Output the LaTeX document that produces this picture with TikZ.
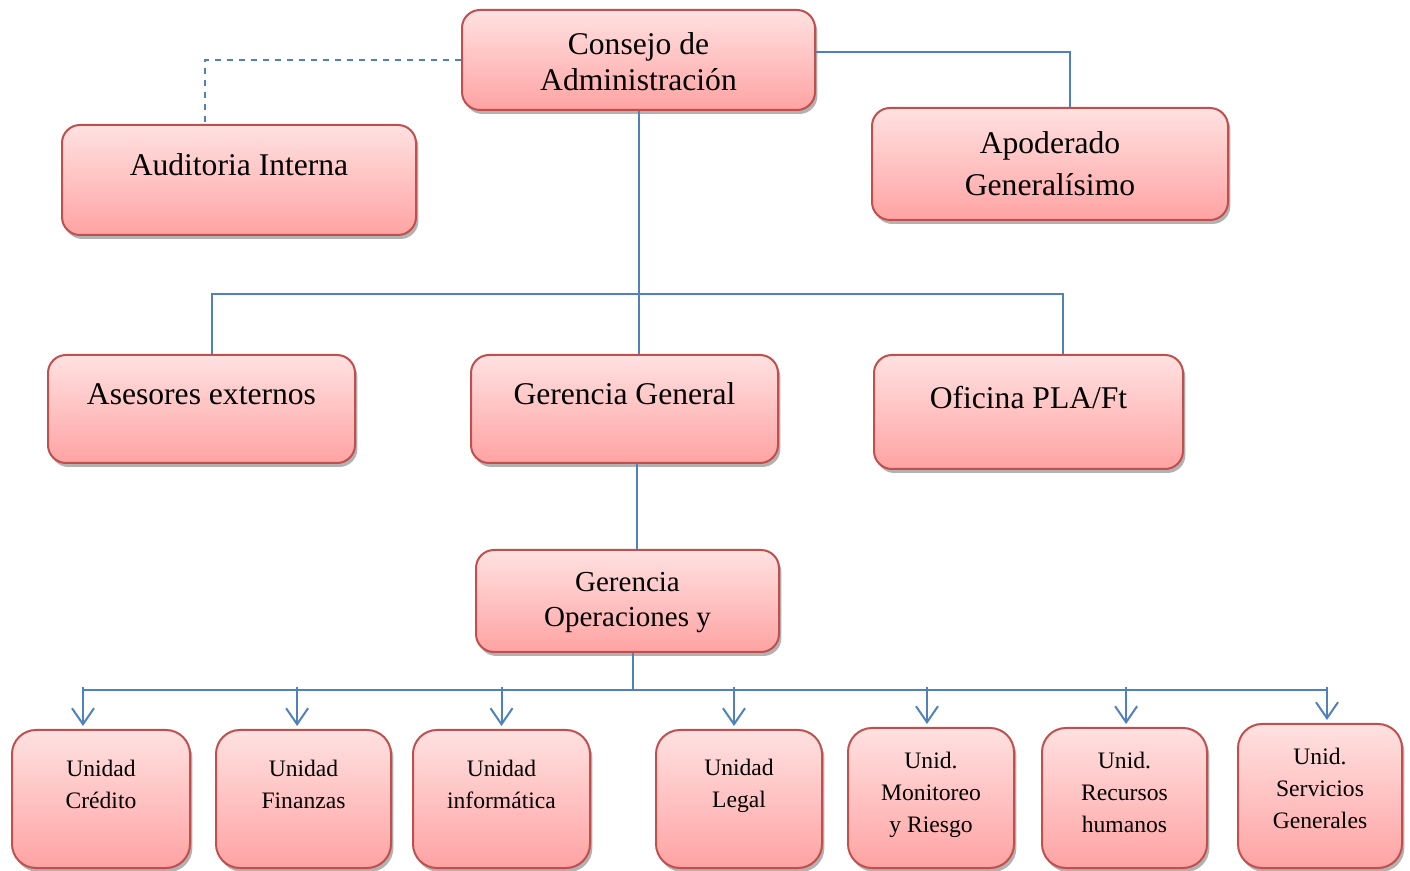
\documentclass[tikz,border=0pt]{standalone}
\usepackage{fontspec}
\setmainfont{Liberation Serif}
\usetikzlibrary{arrows.meta,shadows}

\definecolor{boxred}{RGB}{192,80,77}
\definecolor{boxtop}{RGB}{255,225,225}
\definecolor{boxbot}{RGB}{255,163,163}
\definecolor{linkblue}{RGB}{79,129,189}

\tikzset{
  box/.style={draw=boxred, line width=1pt, rounded corners=9pt,
    top color=boxtop, bottom color=boxbot, inner sep=0pt,
    drop shadow={shadow xshift=1.2pt, shadow yshift=-2pt, opacity=0.3, fill=black}},
  unit/.style={box, rounded corners=12pt},
  bigtxt/.style={font=\fontsize{15.8}{18}\selectfont, align=center},
  optxt/.style={font=\fontsize{14.5}{17.5}\selectfont, align=center},
  unittxt/.style={font=\fontsize{11.8}{16}\selectfont, align=center},
  link/.style={draw=linkblue, line width=1pt},
  arr/.style={link, -{Straight Barb[length=8pt,width=11pt]}},
}

\begin{document}
\begin{tikzpicture}[x=0.5pt, y=-0.5pt]
    \useasboundingbox (0,0) rectangle (1410,871);

    % Consejo
    \node[box, minimum width=176.5pt, minimum height=50pt,
      label={[bigtxt, yshift=-1pt]center:Consejo de\\Administración}] (cons) at (638.5,60) {};

    % Auditoria
    \node[box, minimum width=177pt, minimum height=55pt,
      label={[bigtxt, yshift=7.5pt]center:Auditoria Interna}] (aud) at (239,180) {};
    \draw[link, dashed] (cons.west) -| ([xshift=-17pt]aud.north);

    % Apoderado
    \node[box, minimum width=178pt, minimum height=56pt,
      label={[bigtxt, font=\fontsize{15.8}{21}\selectfont]center:Apoderado\\Generalísimo}] (apod) at (1050,164) {};
    \draw[link] ([yshift=4pt]cons.east) -| ([xshift=10pt]apod.north);

    % second row
    \node[box, minimum width=153.5pt, minimum height=54pt,
      label={[bigtxt, yshift=7.5pt]center:Asesores externos}] (ases) at (201.5,409) {};
    \node[box, minimum width=153.5pt, minimum height=54pt,
      label={[bigtxt, yshift=7.5pt]center:Gerencia General}] (gg) at (624.5,409) {};
    \node[box, minimum width=154.5pt, minimum height=57pt,
      label={[bigtxt, yshift=7pt]center:Oficina PLA/Ft}] (ofi) at (1028.5,412) {};

    \coordinate (busT) at (641,294);
    \coordinate (upL) at ([xshift=5pt]ases.north);
    \coordinate (upR) at ([xshift=17pt]ofi.north);
    \draw[link] (cons.south) -- (cons.south |- gg.north);
    \draw[link] (upL) |- (busT) -| (upR);

    % Gerencia Operaciones
    \node[box, minimum width=151.5pt, minimum height=51pt,
      label={[optxt, yshift=-0.7pt]center:Gerencia\\Operaciones y}] (gop) at (627.5,601) {};
    \draw[link] ([xshift=6pt]gg.south) -- ([xshift=4.5pt]gop.north);

    % units
    \node[unit, minimum width=89pt, minimum height=69pt,
      label={[unittxt, yshift=7.5pt]center:Unidad\\Crédito}] (cred) at (101,799) {};
    \node[unit, minimum width=87.5pt, minimum height=69pt,
      label={[unittxt, yshift=7.5pt]center:Unidad\\Finanzas}] (fin) at (303.5,799) {};
    \node[unit, minimum width=88.5pt, minimum height=69pt,
      label={[unittxt, yshift=7.5pt]center:Unidad\\informática}] (inf) at (501.5,799) {};
    \node[unit, minimum width=83pt, minimum height=69pt,
      label={[unittxt, yshift=6.5pt]center:Unidad\\Legal}] (leg) at (739,799) {};
    \node[unit, minimum width=83pt, minimum height=70pt,
      label={[unittxt, yshift=1.5pt]center:Unid.\\Monitoreo\\y Riesgo}] (mon) at (931,798) {};
    \node[unit, minimum width=82.5pt, minimum height=70pt,
      label={[unittxt, yshift=3pt]center:Unid.\\Recursos\\humanos}] (rec) at (1124.5,798) {};
    \node[unit, minimum width=82pt, minimum height=72pt,
      label={[unittxt, yshift=4pt]center:Unid.\\Servicios\\Generales}] (serv) at (1320,796) {};

    \coordinate (bus) at (633,690);
    \coordinate (busL) at (83,690);
    \coordinate (busR) at (1327,690);
    \draw[link] (bus |- gop.south) -- (bus);
    \draw[link] (busL) -- (busR);
    \foreach \n/\dx in {cred/-9, fin/-3.2, inf/0, leg/-2.5, mon/-2, rec/0.8, serv/3.5}{
      \coordinate (t\n) at ([xshift=\dx pt, yshift=1.5pt]\n.north);
      \draw[arr] ([yshift=1.5pt]t\n |- busL) -- (t\n);
    }

\end{tikzpicture}
\end{document}
